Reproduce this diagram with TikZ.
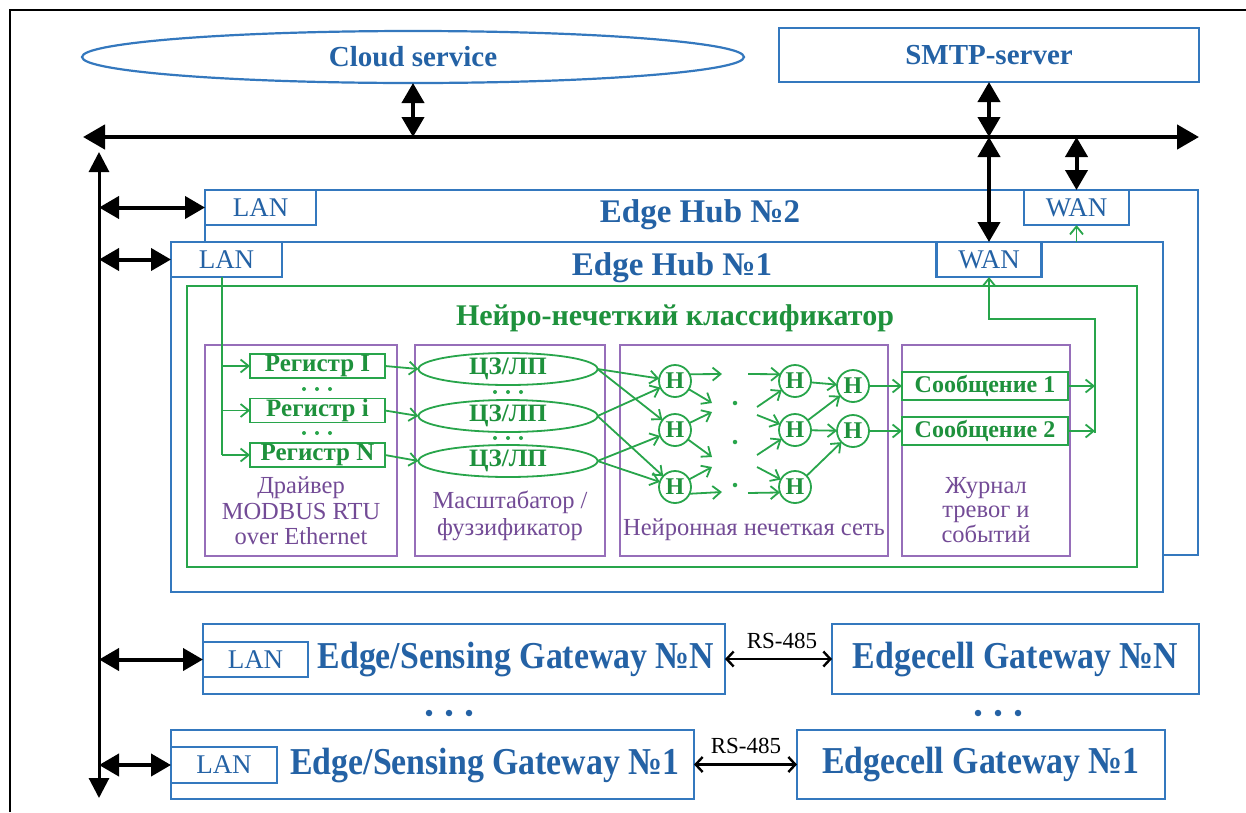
\documentclass[tikz,border=0pt]{standalone}
\usepackage{fontspec}
\setmainfont{Liberation Serif}
\usetikzlibrary{arrows.meta,shapes.geometric,calc}
\definecolor{cBlue}{RGB}{52,120,190}
\definecolor{cBlueT}{RGB}{36,98,165}
\definecolor{cGreen}{RGB}{40,165,75}
\definecolor{cGreenT}{RGB}{30,145,60}
\definecolor{cPurp}{RGB}{150,110,185}
\definecolor{cPurpT}{RGB}{115,75,150}
\newcommand\myfs[1]{\fontsize{#1}{#1}\selectfont}
\newcommand\gwsq[1]{\scalebox{0.89}[1]{#1}}
\begin{document}
\begin{tikzpicture}[x=1pt,y=-1pt,
  bbox/.style={draw=cBlue, line width=2.2pt, fill=white, inner sep=0pt, outer sep=0pt},
  ttl/.style={text=cBlueT, font=\myfs{29}\bfseries},
  hubt/.style={text=cBlueT, font=\myfs{33}\bfseries, inner sep=0pt},
  gwt/.style={text=cBlueT, font=\myfs{38}\bfseries, inner sep=0pt},
  lanbox/.style={bbox, minimum height=35pt, text=cBlueT, font=\myfs{27}},
  gline/.style={draw=cGreen, line width=1.8pt},
  garrow/.style={gline, -{Straight Barb[length=8pt,width=13pt]}},
  gbox/.style={draw=cGreen, line width=1.8pt, fill=white, inner sep=0pt, outer sep=0pt, text=cGreenT, font=\myfs{25}\bfseries},
  neur/.style={gbox, circle, minimum size=32pt, font=\myfs{24}\bfseries},
  pbox/.style={draw=cPurp, line width=1.4pt, inner sep=0pt, outer sep=0pt, minimum height=211pt},
  ptxt/.style={text=cPurpT, font=\myfs{24.5}, align=center, inner sep=0pt},
  bigarr/.style={line width=4pt, {Triangle[length=20pt,width=22pt]}-{Triangle[length=20pt,width=22pt]}},
  vertarr/.style={line width=3pt, {Triangle[length=20pt,width=20pt]}-{Triangle[length=20pt,width=20pt]}},
  rsarr/.style={line width=2.4pt, {Straight Barb[length=7pt,width=15pt]}-{Straight Barb[length=7pt,width=15pt]}},
  gdot/.style={circle, fill=cGreen, inner sep=0pt, minimum size=4pt},
  bdot/.style={circle, fill=cBlueT, inner sep=0pt, minimum size=6.5pt}
]
\useasboundingbox (0,0) rectangle (1246,812);
\fill[white] (0,0) rectangle (1246,812);
\draw[line width=1.3pt] (10,812) -- (10,10) -- (1246,10);

% top services
\node[bbox, ellipse, minimum width=662pt, minimum height=52pt, ttl] (cloud) at (413,57) {Cloud service};
\node[bbox, minimum width=420pt, minimum height=54pt, ttl] (smtp) at (989,55) {SMTP-server};

% bus
\coordinate (busL) at (83,137);
\coordinate (busR) at (1199,137);
\draw[line width=4.5pt, {Triangle[length=22pt,width=24pt]}-{Triangle[length=22pt,width=24pt]}] (busL) -- (busR);

% vertical LAN line
\coordinate (vt) at (99,152);
\coordinate (vb) at (99,798);
\draw[vertarr] (vt) -- (vb);

% Edge Hub 2
\node[bbox, minimum width=993pt, minimum height=365pt] (hub2) at (701.5,372.5) {};
\node[lanbox, minimum width=111pt] (lan2) at (260.5,207.5) {LAN};
\node[lanbox, minimum width=105pt] (wan2) at (1076.5,207.5) {WAN};
\node[hubt] (hub2t) at (700,215) {Edge Hub №2};

% Edge Hub 1
\node[bbox, minimum width=992pt, minimum height=350pt] (hub1) at (667,417) {};
\node[lanbox, minimum width=111pt] (lan1) at (226.5,259.5) {LAN};
\node[lanbox, minimum width=105pt] (wan1) at (989,259.5) {WAN};
\node[hubt] (hub1t) at (672,268) {Edge Hub №1};

% black connectors
\draw[bigarr] (cloud.south) -- (cloud.south |- busL);
\draw[bigarr] (smtp.south) -- (smtp.south |- busL);
\draw[bigarr] (wan1.north |- busL) -- (wan1.north);
\draw[bigarr] (wan2.north |- busL) -- (wan2.north);
\draw[bigarr] (lan2.west -| vt) -- (lan2.west);
\draw[bigarr] (lan1.west -| vt) -- (lan1.west);

% classifier
\node[draw=cGreen, line width=1.8pt, inner sep=0pt, minimum width=950pt, minimum height=281pt] (cls) at (662,426.5) {};
\node[text=cGreenT, font=\myfs{30}\bfseries, inner sep=0pt] (clst) at (675,318) {Нейро-нечеткий классификатор};
\draw[garrow] (hub1.north -| wan2) -- (wan2.south);

% purple sections
\node[pbox, minimum width=192pt] (p1) at (301,450.5) {};
\node[pbox, minimum width=190pt] (p2) at (510,450.5) {};
\node[pbox, minimum width=268pt] (p3) at (754,450.5) {};
\node[pbox, minimum width=168pt] (p4) at (986,450.5) {};
\node[ptxt] (p1t) at (301,511) {Драйвер\\[1pt]MODBUS RTU\\[1pt]over Ethernet};
\node[ptxt] (p2t) at (510,516) {Масштабатор /\\[3pt]фуззификатор};
\node[ptxt] (p3t) at (754,530) {Нейронная нечеткая сеть};
\node[ptxt] (p4t) at (986,510) {Журнал\\[0pt]тревог и\\[0pt]событий};

% registers
\node[gbox, minimum width=135pt, minimum height=24pt] (reg1) at (317.5,366) {Регистр I};
\node[gbox, minimum width=135pt, minimum height=24pt] (reg2) at (317.5,410.5) {Регистр i};
\node[gbox, minimum width=135pt, minimum height=24pt] (reg3) at (317.5,455) {Регистр N};
\foreach \yy in {389,433} \foreach \xx in {304,317,330} \node[gdot] at (\xx,\yy) {};
\coordinate (trunk) at (222,277);
\draw[gline] ([xshift=-4.5pt]lan1.south) -- (reg3.west -| trunk);
\draw[garrow] (reg1.west -| trunk) -- (reg1.west);
\draw[garrow] (reg2.west -| trunk) -- (reg2.west);
\draw[garrow] (reg3.west -| trunk) -- (reg3.west);

% fuzzifier ellipses
\node[gbox, ellipse, minimum width=179pt, minimum height=32pt] (e1) at (508,369) {ЦЗ/ЛП};
\node[gbox, ellipse, minimum width=179pt, minimum height=32pt] (e2) at (508,416) {ЦЗ/ЛП};
\node[gbox, ellipse, minimum width=179pt, minimum height=32pt] (e3) at (508,461) {ЦЗ/ЛП};
\foreach \yy in {392,438} \foreach \xx in {495,508,521} \node[gdot] at (\xx,\yy) {};
\draw[garrow] (reg1.east) -- (e1.west);
\draw[garrow] (reg2.east) -- (e2.west);
\draw[garrow] (reg3.east) -- (e3.west);

% neurons
\node[neur] (h11) at (675,381) {Н};
\node[neur] (h12) at (675,430) {Н};
\node[neur] (h13) at (675,487) {Н};
\node[neur] (h21) at (795,381) {Н};
\node[neur] (h22) at (795,430) {Н};
\node[neur] (h23) at (795,487) {Н};
\node[neur] (h31) at (853,386) {Н};
\node[neur] (h32) at (853,431) {Н};
\node[gdot, minimum size=4.5pt] at (735,403) {};
\node[gdot, minimum size=4.5pt] at (735,442) {};
\node[gdot, minimum size=4.5pt] at (735,485) {};

\draw[garrow] (e1.east) -- (h11);
\draw[garrow] (e1.east) -- (h12);
\draw[garrow] (e2.east) -- (h11);
\draw[garrow] (e2.east) -- (h13);
\draw[garrow] (e3.east) -- (h12);
\draw[garrow] (e3.east) -- (h13);

\coordinate (s11a) at (722,374);
\coordinate (s11b) at (712,403);
\coordinate (s12a) at (712,412);
\coordinate (s12b) at (712,457);
\coordinate (s13a) at (712,467);
\coordinate (s13b) at (722,492);
\draw[garrow] (h11.25) -- (s11a);
\draw[garrow] (h11) -- (s11b);
\draw[garrow] (h12) -- (s12a);
\draw[garrow] (h12) -- (s12b);
\draw[garrow] (h13) -- (s13a);
\draw[garrow] (h13.335) -- (s13b);

\coordinate (t21a) at (748,374);
\coordinate (t21b) at (757,407);
\coordinate (t22a) at (757,415);
\coordinate (t22b) at (757,455);
\coordinate (t23a) at (757,467);
\coordinate (t23b) at (748,493);
\draw[garrow] (t21a) -- (h21.155);
\draw[garrow] (t21b) -- (h21);
\draw[garrow] (t22a) -- (h22);
\draw[garrow] (t22b) -- (h22);
\draw[garrow] (t23a) -- (h23);
\draw[garrow] (t23b) -- (h23.200);

\draw[garrow] (h21) -- (h31);
\draw[garrow] (h22) -- (h31);
\draw[garrow] (h22) -- (h32);
\draw[garrow] (h23) -- (h32);

% messages
\node[gbox, minimum width=166pt, minimum height=28pt, font=\myfs{24}\bfseries] (m1) at (985,386) {Сообщение 1};
\node[gbox, minimum width=166pt, minimum height=28pt, font=\myfs{24}\bfseries] (m2) at (985,431) {Сообщение 2};
\draw[garrow] (h31) -- (m1.west);
\draw[garrow] (h32) -- (m2.west);
\coordinate (col) at (1095,319);
\draw[garrow] (m1.east) -- (m1.east -| col);
\draw[garrow] (m2.east) -- (m2.east -| col);
\draw[garrow] ([yshift=-2pt]m2.east -| col) -- (col) -- (col -| wan1) -- (wan1.south);

% gateways
\node[bbox, minimum width=522pt, minimum height=70pt] (gwN) at (464,659) {};
\node[lanbox, minimum width=105pt] (lanN) at (255.5,659.5) {LAN};
\node[gwt] (gwNt) at (516,659) {\gwsq{Edge/Sensing Gateway №N}};
\node[bbox, minimum width=367pt, minimum height=70pt, gwt] (ecN) at (1015.5,659) {\gwsq{Edgecell Gateway №N}};
\draw[rsarr] (gwN.east) -- (ecN.west);
\node[font=\myfs{23}, inner sep=0pt] (rsN) at (782,641) {RS-485};

\node[bbox, minimum width=523pt, minimum height=69pt] (gw1) at (432.5,764.5) {};
\node[lanbox, minimum width=106pt, minimum height=36pt] (lanG1) at (224,765) {LAN};
\node[gwt] (gw1t) at (485,765) {\gwsq{Edge/Sensing Gateway №1}};
\node[bbox, minimum width=368pt, minimum height=69pt, gwt] (ec1) at (981,764.5) {\gwsq{Edgecell Gateway №1}};
\draw[rsarr] (gw1.east) -- (ec1.west);
\node[font=\myfs{23}, inner sep=0pt] (rs1) at (746,746) {RS-485};

\draw[bigarr] (lanN.west -| vt) -- (lanN.west);
\draw[bigarr] (lanG1.west -| vt) -- (lanG1.west);

\foreach \xx in {429,449,469} \node[bdot] at (\xx,713) {};
\foreach \xx in {978,998,1018} \node[bdot] at (\xx,713) {};
\end{tikzpicture}
\end{document}
